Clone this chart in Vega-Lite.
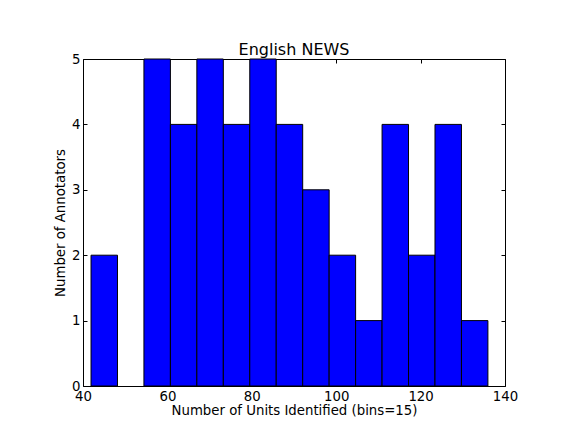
{
  "$schema": "https://vega.github.io/schema/vega-lite/v6.json",
  "width": 422,
  "height": 327,
  "autosize": {"type": "none"},
  "padding": {"left": 83, "top": 59, "right": 60, "bottom": 46},
  "background": "white",
  "config": {
    "font": "DejaVu Sans",
    "view": {"stroke": "black", "strokeWidth": 1},
    "axis": {"domain": false, "grid": false, "labelFlush": false, "tickColor": "black", "labelColor": "black", "titleColor": "black", "labelFont": "DejaVu Sans", "titleFont": "DejaVu Sans", "labelFontSize": 13.3, "titleFontSize": 13.3, "titleFontWeight": "normal", "tickSize": -4, "tickWidth": 1}
  },
  "title": {"text": "English NEWS", "font": "DejaVu Sans", "fontSize": 16, "fontWeight": "normal", "color": "black", "offset": -6, "anchor": "middle"},
  "data": {
    "values": [
      {"start": 41.9, "end": 48.17, "count": 2},
      {"start": 48.17, "end": 54.44, "count": 0},
      {"start": 54.44, "end": 60.71, "count": 5},
      {"start": 60.71, "end": 66.98, "count": 4},
      {"start": 66.98, "end": 73.25, "count": 5},
      {"start": 73.25, "end": 79.52, "count": 4},
      {"start": 79.52, "end": 85.79, "count": 5},
      {"start": 85.79, "end": 92.06, "count": 4},
      {"start": 92.06, "end": 98.33, "count": 3},
      {"start": 98.33, "end": 104.6, "count": 2},
      {"start": 104.6, "end": 110.87, "count": 1},
      {"start": 110.87, "end": 117.14, "count": 4},
      {"start": 117.14, "end": 123.41, "count": 2},
      {"start": 123.41, "end": 129.68, "count": 4},
      {"start": 129.68, "end": 135.95, "count": 1}
    ]
  },
  "layer": [
    {
      "transform": [{"filter": "datum.count > 0"}],
      "mark": {"type": "rect", "fill": "#0000ff", "stroke": "black", "strokeWidth": 1},
      "encoding": {
        "x": {"field": "start", "type": "quantitative", "scale": {"domain": [40, 140], "nice": false, "zero": false},
              "axis": {"values": [40, 60, 80, 100, 120, 140], "title": "Number of Units Identified (bins=15)", "labelPadding": 7, "titlePadding": 1}},
        "x2": {"field": "end"},
        "y": {"field": "count", "type": "quantitative", "scale": {"domain": [0, 5], "nice": false},
              "axis": {"values": [0, 1, 2, 3, 4, 5], "title": "Number of Annotators", "labelPadding": 7, "titlePadding": 4}},
        "y2": {"datum": 0}
      }
    },
    {
      "mark": {"type": "rect", "opacity": 0},
      "encoding": {
        "x": {"field": "start", "type": "quantitative", "scale": {"domain": [40, 140], "nice": false, "zero": false}, "axis": {"orient": "top", "values": [40, 60, 80, 100, 120, 140], "labels": false, "title": null}},
        "y": {"field": "count", "type": "quantitative", "scale": {"domain": [0, 5], "nice": false}, "axis": {"orient": "right", "values": [0, 1, 2, 3, 4, 5], "labels": false, "title": null}}
      }
    }
  ],
  "resolve": {"axis": {"x": "independent", "y": "independent"}}
}
